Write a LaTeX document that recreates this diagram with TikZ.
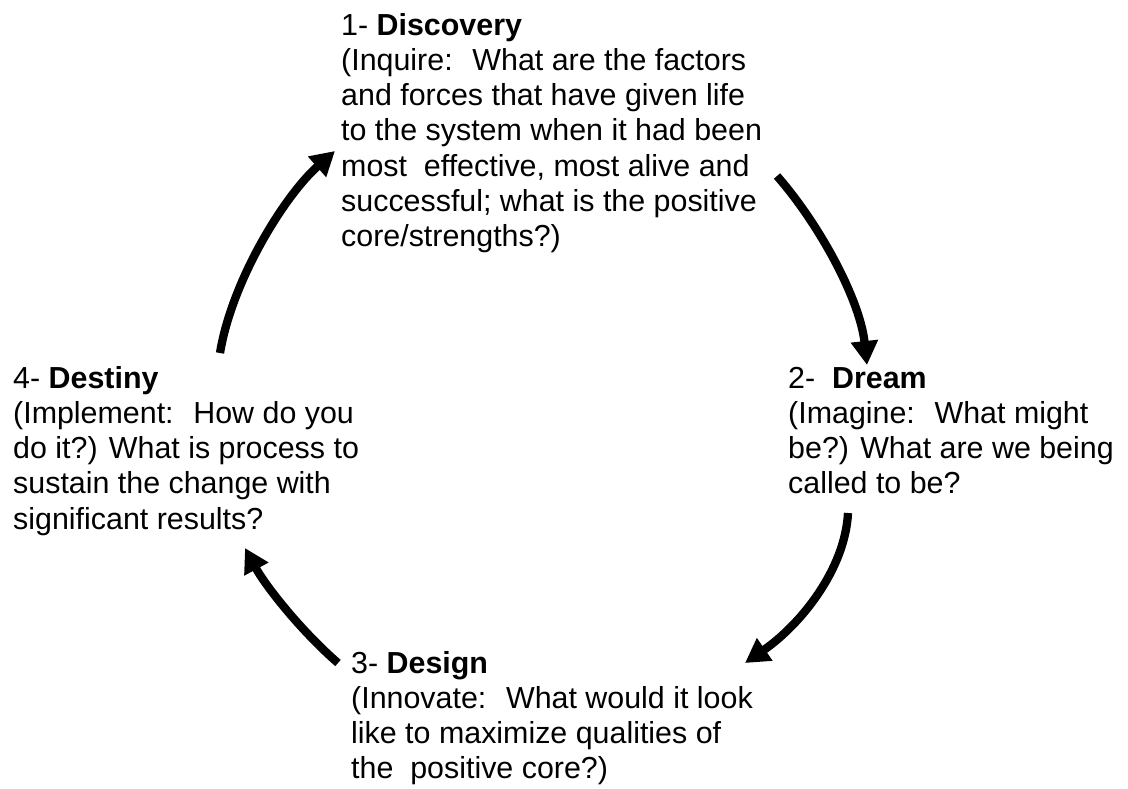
\documentclass[tikz,border=0pt]{standalone}
\usepackage{fontspec}
\setmainfont{Liberation Sans}
\usetikzlibrary{arrows.meta}
\begin{document}
\begin{tikzpicture}[x=1pt,y=-1pt,
  label/.style={anchor=base west,inner sep=0pt,align=left,
    font=\fontsize{30.4}{35.3}\selectfont},
  cyc/.style={line width=8.3pt,-{Triangle[length=24pt,width=26pt]}}]
\useasboundingbox (0,0) rectangle (1128,788);
% anchor base west = baseline of the last line
\node[label] (disc) at (341,246.8) {1- \textbf{Discovery}\\(Inquire:~ What are the factors\\and forces that have given life\\to the system when it had been\\most~ effective, most alive and\\successful; what is the positive\\core/strengths?)};
\node[label] (dream) at (788,493.9) {2-~ \textbf{Dream}\\(Imagine:~ What might\\be?) What are we being\\called to be?};
\node[label] (design) at (351,778.9) {3- \textbf{Design}\\(Innovate:~ What would it look\\like to maximize qualities of\\the~ positive core?)};
\node[label] (dest) at (13,529.2) {4- \textbf{Destiny}\\(Implement:~ How do you\\do it?) What is process to\\sustain the change with\\significant results?};
\coordinate (a1s) at (220,353);
\coordinate (a1e) at (335,151);
\coordinate (a2s) at (777,176);
\coordinate (a2e) at (867,365);
\coordinate (a3s) at (848,513);
\coordinate (a3e) at (745,663);
\coordinate (a4s) at (338,663);
\coordinate (a4e) at (245,548);
\draw[cyc] (a1s) .. controls (232,280) and (285,195) .. (a1e);
\draw[cyc] (a2s) .. controls (820,225) and (860,300) .. (a2e);
\draw[cyc] (a3s) .. controls (845,570) and (800,625) .. (a3e);
\draw[cyc] (a4s) .. controls (300,630) and (265,585) .. (a4e);
\end{tikzpicture}
\end{document}
